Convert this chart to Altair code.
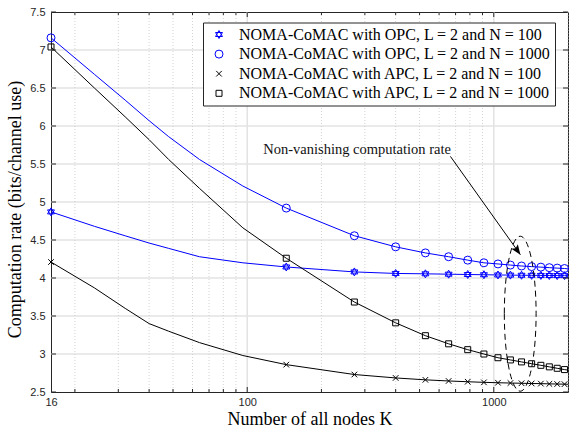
import altair as alt
import pandas as pd

# ---------------- data ----------------
K_LINE = [16, 24, 32, 40, 48, 64, 96, 144, 272, 400, 528, 656, 784, 912,
          1040, 1168, 1296, 1424, 1552, 1680, 1808, 1936, 2000]
K_MARK = [16, 144, 272, 400, 528, 656, 784, 912, 1040, 1168, 1296, 1424,
          1552, 1680, 1808, 1936]

OPC_100 = [4.87, 4.68, 4.555, 4.46, 4.39, 4.28, 4.20, 4.145, 4.08, 4.06, 4.055,
           4.05, 4.046, 4.043, 4.04, 4.038, 4.036, 4.035, 4.034, 4.033, 4.032,
           4.031, 4.03]
OPC_1000 = [7.16, 6.68, 6.34, 6.07, 5.86, 5.56, 5.21, 4.92, 4.556, 4.41, 4.33,
            4.28, 4.235, 4.20, 4.185, 4.17, 4.158, 4.15, 4.143, 4.136, 4.13,
            4.125, 4.12]
APC_100 = [4.21, 3.87, 3.60, 3.40, 3.30, 3.15, 2.98, 2.86, 2.73, 2.685, 2.66,
           2.645, 2.635, 2.627, 2.622, 2.618, 2.615, 2.612, 2.61, 2.607, 2.605,
           2.603, 2.602]
APC_1000 = [7.04, 6.50, 6.12, 5.82, 5.56, 5.18, 4.66, 4.26, 3.684, 3.41, 3.241,
            3.134, 3.057, 3.00, 2.951, 2.922, 2.896, 2.872, 2.851, 2.831, 2.812,
            2.795, 2.788]

SERIES = [
    "NOMA-CoMAC with OPC, L = 2 and N = 100",
    "NOMA-CoMAC with OPC, L = 2 and N = 1000",
    "NOMA-CoMAC with APC, L = 2 and N = 100",
    "NOMA-CoMAC with APC, L = 2 and N = 1000",
]
VALUES = [OPC_100, OPC_1000, APC_100, APC_1000]
COLORS = ["#0000ff", "#0000ff", "#000000", "#000000"]

HEXAGRAM = ("M0,-1 L0.866,0.5 L-0.866,0.5 Z "
            "M0,1 L0.866,-0.5 L-0.866,-0.5 Z")
XMARK = "M-0.7,-0.7 L0.7,0.7 M-0.7,0.7 L0.7,-0.7"
SQUARE = "M-0.75,-0.75 L0.75,-0.75 L0.75,0.75 L-0.75,0.75 Z"
SHAPES = [HEXAGRAM, "circle", XMARK, SQUARE]

Y_TICKS = [2.5, 3, 3.5, 4, 4.5, 5, 5.5, 6, 6.5, 7, 7.5]
Y_GRID = [3, 3.5, 4, 4.5, 5, 5.5, 6, 6.5, 7]
X_LABELS = [16, 100, 1000]
X_MAJOR = [100, 1000]
X_MINOR = [20, 30, 40, 50, 60, 70, 80, 90, 200, 300, 400, 500, 600, 700,
           800, 900, 2000]

ANN_TEXT = ["Non-vanishing computation rate"]
ANN_TEXT_POS = [(279, 5.69)]
ARROW_FROM = [(667, 5.60)]
ARROW_TO = [(1282, 4.307)]
ELLIPSE_CENTER = [(1280, 3.53)]
ELLIPSE_PATH = ("M-0.205,0 A0.205,1 0 1,0 0.205,0 "
                "A0.205,1 0 1,0 -0.205,0 Z")

# ---------------- tables ----------------
rows = []
for s, vals, c in zip(SERIES, VALUES, COLORS):
    for k, v in zip(K_LINE, vals):
        rows.append({"K": k, "rate": v, "series": s, "lc": c})
df_line = pd.DataFrame(rows)
df_mark = df_line[df_line["K"].isin(K_MARK)].copy()

serif = "Liberation Serif"
sans = "Liberation Sans"

x_scale = alt.Scale(type="log", domain=[16, 2000], nice=False)
y_scale = alt.Scale(domain=[2.5, 7.5], nice=False, zero=False)

x_axis = alt.Axis(values=X_LABELS, format="d", title="Number of all nodes K",
                  grid=False, ticks=False, domain=False, labelFlush=False,
                  labelFont=sans, labelFontSize=11, labelColor="#262626",
                  labelPadding=4, titleFont=serif, titleFontSize=18,
                  titleFontWeight="normal", titleColor="#000000",
                  titleBaseline="alphabetic", titleY=32, titleX=258.5)
y_axis = alt.Axis(values=Y_TICKS, format="~g",
                  title="Computation rate (bits/channel use)",
                  grid=False, ticks=False, domain=False,
                  labelFont=sans, labelFontSize=11, labelColor="#262626",
                  labelPadding=6, titleFont=serif, titleFontSize=18,
                  titleFontWeight="normal", titleColor="#000000",
                  titleBaseline="alphabetic", titleAngle=270,
                  titleX=-31, titleY=197)

X = alt.X("K:Q", scale=x_scale, axis=x_axis)
Y = alt.Y("rate:Q", scale=y_scale, axis=y_axis)

W, H = 517, 380

ygrid = alt.Chart(pd.DataFrame({"rate": Y_GRID})).mark_rule(
    color="#e3e3e3", strokeWidth=1.5).encode(y=Y)
xgrid_major = alt.Chart(pd.DataFrame({"K": X_MAJOR})).mark_rule(
    color="#e3e3e3", strokeWidth=1.5).encode(x=X)
xgrid_minor = alt.Chart(pd.DataFrame({"K": X_MINOR})).mark_rule(
    color="#c8c8c8", strokeWidth=0.8, strokeDash=[1, 2]).encode(x=X)

lines = alt.Chart(df_line).mark_line(strokeWidth=1).encode(
    x=X, y=Y, detail="series:N",
    stroke=alt.Stroke("lc:N", scale=None))

legend = alt.Legend(title=None, orient="none", legendX=152, legendY=10.5,
                    padding=4, symbolOffset=4, labelOffset=12,
                    rowPadding=3.6, labelFont=serif, labelFontSize=16,
                    labelColor="#000000", labelLimit=500,
                    strokeColor="#262626", fillColor="white",
                    symbolStrokeWidth=1, symbolSize=64,
                    symbolFillColor="transparent", cornerRadius=0)

points = alt.Chart(df_mark).mark_point(filled=False, size=64,
                                       strokeWidth=1, opacity=1).encode(
    x=X, y=Y,
    color=alt.Color("series:N", scale=alt.Scale(domain=SERIES, range=COLORS),
                    legend=legend),
    shape=alt.Shape("series:N", scale=alt.Scale(domain=SERIES, range=SHAPES),
                    legend=legend),
)

# inward ticks (MATLAB style box)
df_yt = pd.DataFrame({"rate": Y_TICKS})
yt_left = alt.Chart(df_yt).mark_rule(color="#262626").encode(
    y=Y, x=alt.value(0), x2=alt.value(5))
yt_right = alt.Chart(df_yt).mark_rule(color="#262626").encode(
    y=Y, x=alt.value(W - 5), x2=alt.value(W))
df_xmaj = pd.DataFrame({"K": X_MAJOR})
df_xmin = pd.DataFrame({"K": X_MINOR[:-1]})
xt_bot_maj = alt.Chart(df_xmaj).mark_rule(color="#262626").encode(
    x=X, y=alt.value(H), y2=alt.value(H - 5))
xt_bot_min = alt.Chart(df_xmin).mark_rule(color="#262626").encode(
    x=X, y=alt.value(H), y2=alt.value(H - 3))
xt_top_maj = alt.Chart(df_xmaj).mark_rule(color="#262626").encode(
    x=X, y=alt.value(0), y2=alt.value(5))
xt_top_min = alt.Chart(df_xmin).mark_rule(color="#262626").encode(
    x=X, y=alt.value(0), y2=alt.value(3))

# annotation
df_txt = pd.DataFrame({"K": [p[0] for p in ANN_TEXT_POS],
                       "rate": [p[1] for p in ANN_TEXT_POS],
                       "t": ANN_TEXT})
ann_text = alt.Chart(df_txt).mark_text(font=serif, fontSize=14.5,
                                       color="#111111", baseline="middle",
                                       align="center").encode(
    x=X, y=Y, text="t:N")

df_arrow = pd.DataFrame({"K": [ARROW_FROM[0][0]], "rate": [ARROW_FROM[0][1]],
                         "K2": [ARROW_TO[0][0]], "rate2": [ARROW_TO[0][1]]})
arrow = alt.Chart(df_arrow).mark_rule(color="#000000", strokeWidth=1).encode(
    x=X, y=Y, x2="K2:Q", y2="rate2:Q")
df_head = pd.DataFrame({"K": [ARROW_TO[0][0]], "rate": [ARROW_TO[0][1]]})
head = alt.Chart(df_head).mark_point(
    shape="M0,0 L-0.4,-1 L0,-0.8 L0.4,-1 Z", size=400, angle=324.5,
    filled=True, color="#000000", opacity=1, strokeWidth=0).encode(x=X, y=Y)

df_ell = pd.DataFrame({"K": [ELLIPSE_CENTER[0][0]],
                       "rate": [ELLIPSE_CENTER[0][1]]})
ellipse = alt.Chart(df_ell).mark_point(
    shape=ELLIPSE_PATH, size=155 ** 2, filled=False, color="#000000",
    strokeWidth=1, strokeDash=[6, 4], opacity=1).encode(x=X, y=Y)

chart = alt.layer(
    ygrid, xgrid_major, xgrid_minor, lines, points,
    yt_left, yt_right, xt_bot_maj, xt_bot_min, xt_top_maj, xt_top_min,
    ellipse, arrow, head, ann_text,
).properties(
    width=W, height=H,
    padding={"left": 51, "top": 12, "right": 1, "bottom": 35},
    autosize=alt.AutoSizeParams(type="none"),
    background="white",
).configure_view(stroke="#262626", strokeWidth=1)

chart.save("out.html", embed_options={"renderer": "svg", "actions": False})
